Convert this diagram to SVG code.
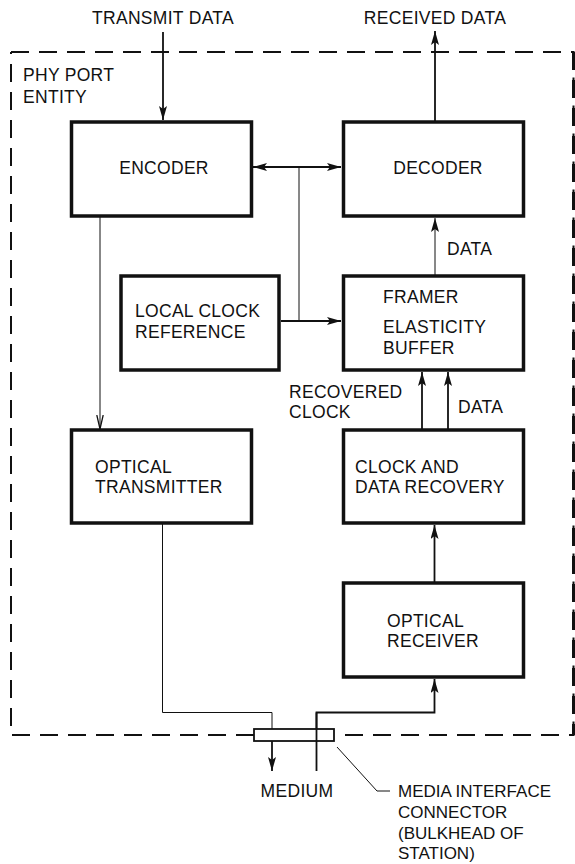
<svg xmlns="http://www.w3.org/2000/svg" width="575" height="864" viewBox="0 0 575 864">
  <style>
    text { font-family: "Liberation Sans", Arial, sans-serif; font-size: 17.5px; letter-spacing: 0.3px; fill: #111; }
    .small { font-size: 17px; letter-spacing: 0; }
    .box { fill: #fff; stroke: #111; stroke-width: 3.5; }
    .wire { fill: none; stroke: #111; stroke-width: 1.8; }
    .thin { fill: none; stroke: #111; stroke-width: 1; }
    .frame { fill: none; stroke: #111; stroke-width: 2; stroke-dasharray: 18 10; }
  </style>
  <defs>
    <marker id="ah" viewBox="0 0 14 8" refX="14" refY="4" markerWidth="14" markerHeight="8" markerUnits="userSpaceOnUse" orient="auto-start-reverse">
      <path d="M0,0 L14,4 L0,8 L3,4 Z" fill="#111"/>
    </marker>
    <marker id="ahThin" viewBox="0 0 14 8" refX="14" refY="4" markerWidth="14" markerHeight="8" markerUnits="userSpaceOnUse" orient="auto">
      <path d="M0,0.8 L14,4 L0,7.2" fill="none" stroke="#111" stroke-width="1.3"/>
    </marker>
  </defs>

  <!-- PHY port boundary -->
  <g id="phy-port-entity">
    <path class="frame" d="M11,52 L573.5,52 L573.5,735 L336,735 M254,735 L11,735 L11,52"/>
    <line x1="573.5" y1="52" x2="573.5" y2="735" stroke="#111" stroke-width="3" stroke-dasharray="18 10"/>
    <text x="23" y="81">PHY PORT</text>
    <text x="23" y="103">ENTITY</text>
  </g>

  <!-- external labels -->
  <g id="transmit-data"><text x="163" y="24" text-anchor="middle">TRANSMIT DATA</text></g>
  <g id="received-data"><text x="435" y="24" text-anchor="middle">RECEIVED DATA</text></g>

  <!-- connectors -->
  <g id="connectors">
    <line class="wire" x1="163" y1="32" x2="163" y2="120" marker-end="url(#ah)"/>
    <line class="wire" x1="435" y1="122" x2="435" y2="31" marker-end="url(#ah)"/>
    <line class="wire" x1="253" y1="167" x2="341" y2="167" marker-start="url(#ah)" marker-end="url(#ah)"/>
    <line class="thin" x1="299" y1="167" x2="299" y2="321"/>
    <line class="wire" x1="281" y1="321" x2="341" y2="321" marker-end="url(#ah)"/>
    <line class="thin" x1="435" y1="276" x2="435" y2="218" marker-end="url(#ah)"/>
    <line class="thin" x1="100" y1="217" x2="100" y2="429" marker-end="url(#ahThin)"/>
    <line class="wire" x1="422" y1="430" x2="422" y2="372" marker-end="url(#ah)"/>
    <line class="wire" x1="448" y1="430" x2="448" y2="372" marker-end="url(#ah)"/>
    <line class="wire" x1="434.5" y1="583" x2="434.5" y2="525" marker-end="url(#ah)"/>
    <polyline class="thin" points="162.5,524 162.5,712.5 272,712.5 272,729"/>
    <line class="wire" x1="272" y1="741" x2="272" y2="771" marker-end="url(#ah)"/>
    <polyline class="wire" points="316.5,771 316.5,712.5 434.5,712.5 434.5,679" marker-end="url(#ah)"/>
    <polyline class="thin" points="337,747 377,791 390,791"/>
  </g>

  <!-- blocks -->
  <g id="encoder">
    <rect class="box" x="71.5" y="122" width="180" height="94"/>
    <text x="164" y="174" text-anchor="middle">ENCODER</text>
  </g>
  <g id="decoder">
    <rect class="box" x="343.5" y="122" width="180" height="94"/>
    <text x="438" y="174" text-anchor="middle">DECODER</text>
  </g>
  <g id="local-clock-reference">
    <rect class="box" x="121" y="276" width="158" height="94"/>
    <text x="135" y="317">LOCAL CLOCK</text>
    <text x="135" y="338">REFERENCE</text>
  </g>
  <g id="framer-elasticity-buffer">
    <rect class="box" x="343.5" y="276" width="180" height="94"/>
    <text x="383" y="303">FRAMER</text>
    <text x="383" y="333">ELASTICITY</text>
    <text x="383" y="354">BUFFER</text>
  </g>
  <g id="optical-transmitter">
    <rect class="box" x="71.5" y="430" width="180" height="93"/>
    <text x="95" y="473">OPTICAL</text>
    <text x="95" y="493">TRANSMITTER</text>
  </g>
  <g id="clock-data-recovery">
    <rect class="box" x="343.5" y="430" width="180" height="93"/>
    <text x="355" y="473">CLOCK AND</text>
    <text x="355" y="493">DATA RECOVERY</text>
  </g>
  <g id="optical-receiver">
    <rect class="box" x="343.5" y="583" width="180" height="94"/>
    <text x="387" y="627">OPTICAL</text>
    <text x="387" y="647">RECEIVER</text>
  </g>
  <g id="media-interface-connector">
    <rect x="254" y="729" width="80" height="12" fill="#fff" stroke="#111" stroke-width="1.8"/>
    <line class="wire" x1="316.5" y1="712.5" x2="316.5" y2="741"/>
  </g>

  <!-- signal labels -->
  <g id="labels">
    <text x="447" y="255">DATA</text>
    <text x="289" y="398">RECOVERED</text>
    <text x="289" y="418">CLOCK</text>
    <text x="458" y="413">DATA</text>
    <text x="297" y="797" text-anchor="middle">MEDIUM</text>
    <text class="small" x="398" y="797">MEDIA INTERFACE</text>
    <text class="small" x="398" y="818">CONNECTOR</text>
    <text class="small" x="398" y="839">(BULKHEAD OF</text>
    <text class="small" x="398" y="859">STATION)</text>
  </g>
</svg>
